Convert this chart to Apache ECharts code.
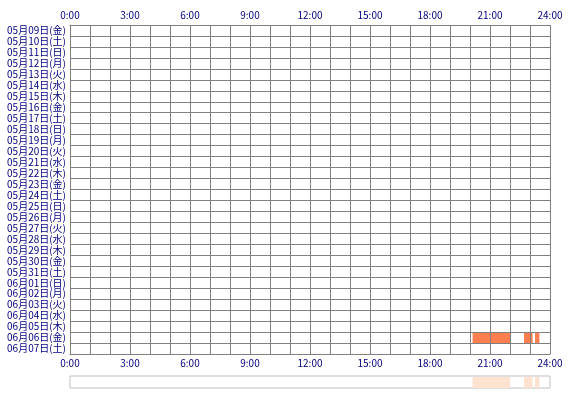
<!DOCTYPE html>
<html>
<head>
<meta charset="utf-8">
<script src="https://cdn.jsdelivr.net/npm/echarts@6/dist/echarts.min.js"></script>
<style>html,body{margin:0;padding:0;background:#fff;}#c{width:570px;height:400px;}</style>
</head>
<body>
<div id="c"></div>
<script>
const dates = ['05月09日(金)','05月10日(土)','05月11日(日)','05月12日(月)','05月13日(火)','05月14日(水)','05月15日(木)','05月16日(金)','05月17日(土)','05月18日(日)','05月19日(月)','05月20日(火)','05月21日(水)','05月22日(木)','05月23日(金)','05月24日(土)','05月25日(日)','05月26日(月)','05月27日(火)','05月28日(水)','05月29日(木)','05月30日(金)','05月31日(土)','06月01日(日)','06月02日(月)','06月03日(火)','06月04日(水)','06月05日(木)','06月06日(金)','06月07日(土)'];
const sessionDays = ['06月06日(金)','06月06日(金)','06月06日(金)'];
const sessionStarts = [20.13, 22.7, 23.25];
const sessionEnds = [22.0, 23.13, 23.47];
const hourTicks = ['0:00','3:00','6:00','9:00','12:00','15:00','18:00','21:00','24:00'];

const barData = sessionDays.map((d, i) => [dates.indexOf(d), sessionStarts[i], sessionEnds[i]]);
const stripData = sessionStarts.map((s, i) => [s, sessionEnds[i]]);

const labelColor = '#000080';
const gridColor = '#808080';
const font = '"Noto Sans CJK JP", sans-serif';

function hourLabel(v) {
  const idx = hourTicks.indexOf(v + ':00');
  return (v % 3 === 0 && idx >= 0) ? hourTicks[idx] : '';
}

const xCommon = {
  type: 'value', min: 0, max: 24, interval: 1, gridIndex: 0, z: 3,
  axisLine: { show: true, lineStyle: { color: gridColor, width: 1 } },
  axisTick: { show: false },
  splitLine: { show: true, lineStyle: { color: gridColor, width: 1 } },
  axisLabel: { color: labelColor, fontSize: 10, fontFamily: font, margin: 5, formatter: hourLabel, showMinLabel: true, showMaxLabel: true }
};

const chart = echarts.init(document.getElementById('c'));
chart.setOption({
  animation: false,
  backgroundColor: '#fff',
  grid: [
    { left: 70, top: 25, width: 480, height: 329, containLabel: false },
    { left: 70, top: 376, width: 480, height: 12, show: true, borderColor: '#c0c0c0', borderWidth: 1, backgroundColor: '#fff' }
  ],
  xAxis: [
    Object.assign({}, xCommon, { position: 'top' }),
    Object.assign({}, xCommon, { position: 'bottom', axisLabel: Object.assign({}, xCommon.axisLabel, { margin: 4 }) }),
    { type: 'value', min: 0, max: 24, gridIndex: 1, show: false }
  ],
  yAxis: [
    {
      type: 'category', data: dates, inverse: true, gridIndex: 0, z: 3,
      axisLine: { show: true, lineStyle: { color: gridColor } },
      axisTick: { show: false },
      splitLine: { show: true, interval: 0, lineStyle: { color: gridColor } },
      axisLabel: { color: labelColor, fontSize: 10, fontFamily: font, margin: 4, interval: 0 }
    },
    { type: 'category', data: ['all'], gridIndex: 1, show: false }
  ],
  series: [
    {
      type: 'custom', xAxisIndex: 0, yAxisIndex: 0, data: barData, z: 2,
      encode: { x: [1, 2], y: 0 },
      renderItem: function (params, api) {
        const row = api.value(0);
        const p1 = api.coord([api.value(1), row]);
        const p2 = api.coord([api.value(2), row]);
        const h = api.size([0, 1])[1];
        return { type: 'rect', shape: { x: p1[0], y: p1[1] - h / 2, width: p2[0] - p1[0], height: h }, style: { fill: '#ff7f50' } };
      }
    },
    {
      type: 'custom', xAxisIndex: 2, yAxisIndex: 1, data: stripData,
      encode: { x: [0, 1] },
      renderItem: function (params, api) {
        const cs = params.coordSys;
        const p1 = api.coord([api.value(0), 0]);
        const p2 = api.coord([api.value(1), 0]);
        return { type: 'rect', shape: { x: p1[0], y: cs.y + 1, width: p2[0] - p1[0], height: cs.height - 1 }, style: { fill: '#ffe2cf' } };
      }
    }
  ]
});
</script>
</body>
</html>
